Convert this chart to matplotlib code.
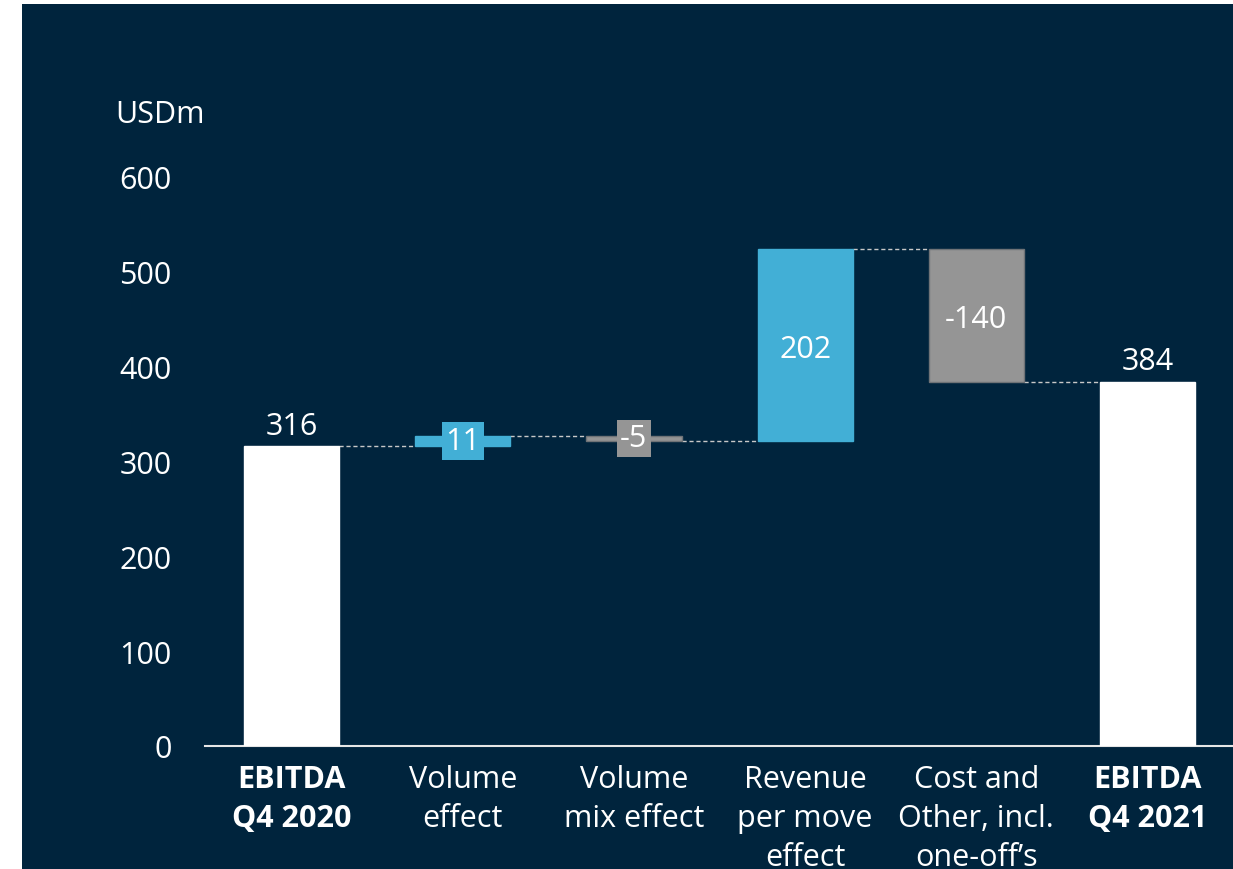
import numpy as np
import matplotlib.pyplot as plt
from matplotlib.patches import Rectangle

categories = ["EBITDA\nQ4 2020", "Volume\neffect", "Volume\nmix effect",
              "Revenue\nper move\neffect", "Cost and\nOther, incl.\none-off\u2019s",
              "EBITDA\nQ4 2021"]
values = [316, 11, -5, 202, -140, 384]
kinds = ["total", "delta", "delta", "delta", "delta", "total"]
labels = ["316", "11", "-5", "202", "-140", "384"]

navy = "#00243d"
blue = "#42afd6"
gray = "#959595"
fs = 22

plt.rcParams['font.family'] = ['Open Sans', 'DejaVu Sans']

fig = plt.figure(figsize=(12.33, 8.70), dpi=100, facecolor="white")
fig.add_artist(Rectangle((22 / 1233, 0), 1, 1 - 5 / 870, transform=fig.transFigure,
                         facecolor=navy, edgecolor="none", zorder=-5))
ax = fig.add_axes([205 / 1233, 123 / 870, 1 - 205 / 1233, (747 - 178) / 870])
ax.set_facecolor(navy)

x = np.arange(len(values))
w = 0.556
bottoms = []
heights = []
colors = []
run = 0
for v, k in zip(values, kinds):
    if k == "total":
        bottoms.append(0)
        heights.append(v)
        colors.append("white")
        run = v
    else:
        bottoms.append(run if v >= 0 else run + v)
        heights.append(abs(v))
        colors.append(blue if v >= 0 else gray)
        run += v

edges = ["#6f7377" if c == gray else c for c in colors]
ax.bar(x, heights, bottom=bottoms, width=w, color=colors, edgecolor=edges,
       linewidth=1, zorder=3)

# connectors
levels = np.cumsum([values[0]] + values[1:5])
for i in range(len(values) - 1):
    ax.plot([x[i] + w / 2, x[i + 1] - w / 2], [levels[i], levels[i]],
            ls=(0, (3, 2)), color="#c8c8c8", lw=1, zorder=2)

for i in range(len(values)):
    c = colors[i]
    if kinds[i] == "total":
        ax.text(x[i], bottoms[i] + heights[i] + 6, labels[i], ha="center", va="bottom",
                color="white", fontsize=fs)
    elif heights[i] < 30:
        ax.text(x[i], bottoms[i] + heights[i] / 2, labels[i], ha="center", va="center",
                color="white", fontsize=fs, zorder=4,
                bbox=dict(boxstyle="square,pad=0.12", facecolor=c, edgecolor="none"))
    else:
        ax.text(x[i], bottoms[i] + heights[i] / 2 - 4, labels[i], ha="center", va="center",
                color="white", fontsize=fs, zorder=4)

ax.set_xlim(-0.506, 5.5)
ax.set_ylim(0, 600)
ax.set_yticks(np.arange(0, 601, 100))
ax.tick_params(axis="y", length=0, pad=24, labelcolor="white", labelsize=fs)
ax.set_xticks(x)
ax.set_xticklabels(categories, fontsize=fs, color="white", linespacing=1.4)
for i, t in enumerate(ax.get_xticklabels()):
    if kinds[i] == "total":
        t.set_fontweight("bold")
ax.tick_params(axis="x", length=0, pad=13)
for s in ["top", "right", "left"]:
    ax.spines[s].set_visible(False)
ax.spines["bottom"].set_color("#e6e6e6")
ax.spines["bottom"].set_linewidth(1.5)

fig.text(115 / 1233, 1 - 115 / 870, "USDm", color="white", fontsize=fs,
         ha="left", va="center")

fig.savefig("out.png", dpi=100, facecolor="white")
